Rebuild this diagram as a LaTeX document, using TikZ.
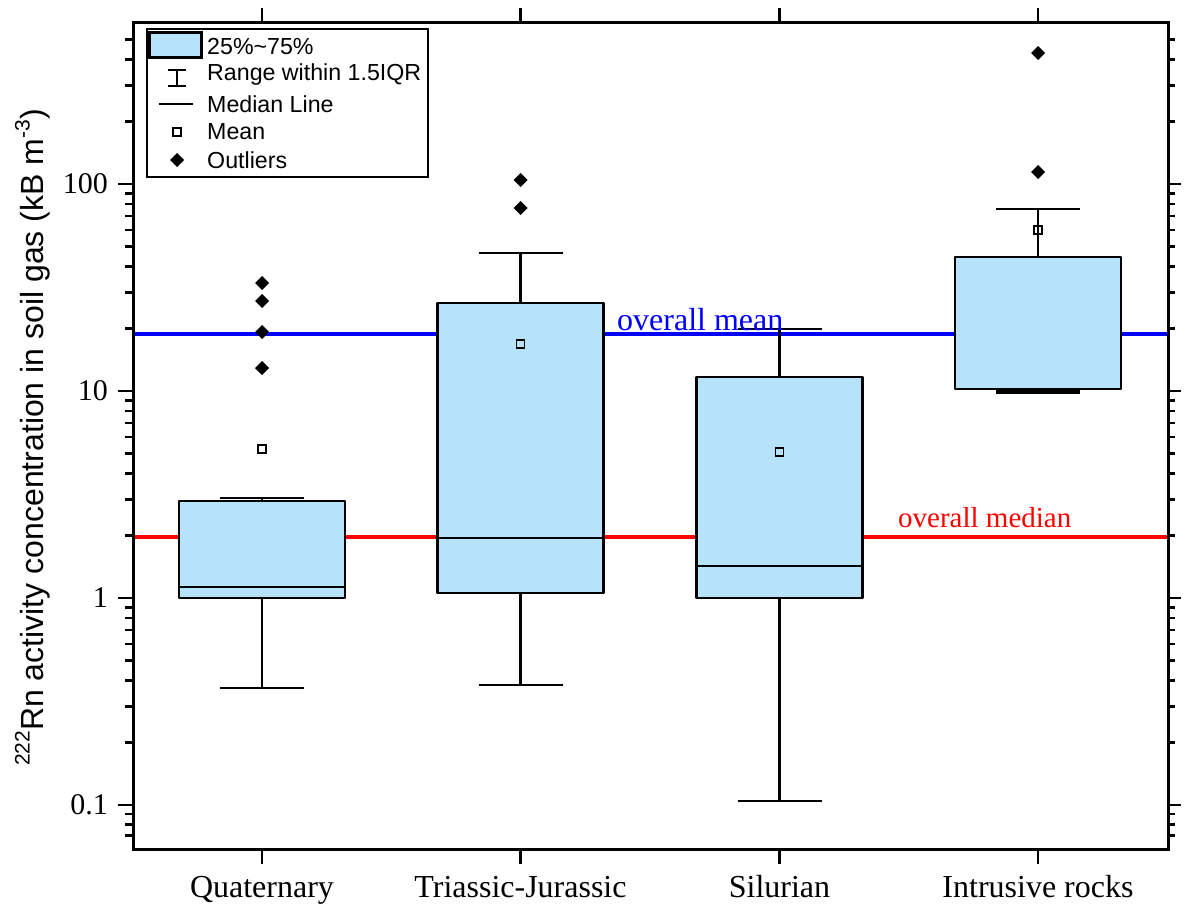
\documentclass[tikz,border=0pt]{standalone}
\usepackage{fontspec}
\setmainfont{Liberation Serif}
\newfontfamily\sansf{Liberation Sans}
\definecolor{boxfill}{RGB}{183,227,250}
\definecolor{mblue}{RGB}{0,0,255}
\definecolor{mred}{RGB}{255,0,0}
\tikzset{
  framest/.style={line width=3pt},
  tickst/.style={line width=2.6pt},
  whisk/.style={line width=2.5pt},
  boxst/.style={draw=black, fill=boxfill, line width=2.5pt, line join=round},
  meanst/.style={draw=black, line width=1.4pt},
  outst/.style={fill=black},
  reflinest/.style={line width=4pt},
  ticklab/.style={anchor=east, inner sep=0pt, font=\fontsize{30}{34}\selectfont},
  catlab/.style={anchor=base, inner sep=0pt, font=\fontsize{32}{36}\selectfont},
  legtext/.style={anchor=west, inner sep=0pt, font=\sansf\fontsize{23.2}{26}\selectfont},
}
% #1 x, #2 lower whisker, #3 q1, #4 median, #5 q3, #6 upper whisker, #7 mean (all pixel y)
\newcommand{\bxp}[7]{%
  \draw[whisk] (#1,#3) -- (#1,#2);
  \draw[whisk] (#1-42,#2) -- (#1+42,#2);
  \draw[whisk] (#1,#5) -- (#1,#6);
  \draw[whisk] (#1-42,#6) -- (#1+42,#6);
  \draw[boxst] (#1-83,#5) rectangle (#1+83,#3);
  \draw[whisk] (#1-83,#4) -- (#1+83,#4);
  \draw[meanst] (#1-4,#7-4) rectangle (#1+4,#7+4);
}
\newcommand{\outl}[2]{\fill[outst] (#1,#2-7) -- (#1+7,#2) -- (#1,#2+7) -- (#1-7,#2) -- cycle;}
\newcommand{\supx}[1]{\raisebox{0.42em}{\fontsize{21}{21}\selectfont #1}}
\begin{document}
\begin{tikzpicture}[x=1pt,y=-1pt]
\useasboundingbox (0,0) rectangle (1184,907);
% reference lines
\draw[reflinest, mblue] (133,334) -- (1168,334);
\draw[reflinest, mred] (133,537) -- (1168,537);
% boxes
\bxp{262}{688}{598}{587}{501}{498}{449}
\outl{262}{283} \outl{262}{301} \outl{262}{332} \outl{262}{368}
\bxp{520.5}{685}{593}{538}{303}{253}{344}
\outl{520.5}{180} \outl{520.5}{208}
\bxp{779.5}{801}{598}{566}{377}{329}{452}
\bxp{1038}{392.5}{389}{389}{257}{209}{230}
\draw[line width=4pt] (1038-42,392) -- (1038+42,392);
\outl{1038}{53} \outl{1038}{172}
% reference labels
\node[anchor=base west, inner sep=0pt, text=mblue, font=\fontsize{32}{36}\selectfont] (lmean) at (617,330) {overall mean};
\node[anchor=base west, inner sep=0pt, text=mred, font=\fontsize{29}{34}\selectfont] (lmed) at (898,527) {overall median};
% frame
\draw[framest] (133,23) rectangle (1168,849);
% major y ticks
\foreach \yy/\lab in {805/0.1, 598/1, 391/10, 184/100} {
  \draw[tickst] (118,\yy) -- (133,\yy);
  \draw[tickst] (1168,\yy) -- (1181,\yy);
  \node[ticklab] at (108,\yy) {\lab};
}
% minor y ticks
\foreach \v in {0.07,0.08,0.09,0.2,0.3,0.4,0.5,0.6,0.7,0.8,0.9,2,3,4,5,6,7,8,9,20,30,40,50,60,70,80,90,200,300,400,500} {
  \pgfmathsetmacro\yy{598-207*log10(\v)}
  \draw[tickst] (125,\yy) -- (133,\yy);
  \draw[tickst] (1168,\yy) -- (1175,\yy);
}
% category ticks and labels
\foreach \xx/\lab in {262/Quaternary, 520.5/Triassic-Jurassic, 779.5/Silurian, 1038/Intrusive rocks} {
  \draw[tickst] (\xx,23) -- (\xx,8);
  \draw[tickst] (\xx,849) -- (\xx,864);
  \node[catlab] at (\xx,897) {\lab};
}
% y-axis label
\node[rotate=90, anchor=base, inner sep=0pt, font=\sansf\fontsize{32}{36}\selectfont] (ylab) at (43,437.5)
  {\supx{222}Rn activity concentration in soil gas (kB m\supx{-3})};
% legend
\draw[line width=1.5pt, fill=white] (147,29) rectangle (428,177);
\draw[line width=3pt, fill=boxfill] (149,33) rectangle (201,58);
\draw[line width=2pt] (177,70) -- (177,86) (168,70) -- (186,70) (168,86) -- (186,86);
\draw[line width=2pt] (159,104) -- (193,104);
\draw[line width=1.2pt] (173,128) rectangle (181,136);
\outl{177}{160}
\node[legtext] (l1) at (207,47) {25\%\textasciitilde75\%};
\node[legtext] (l2) at (207,75) {Range within 1.5IQR};
\node[legtext] (l3) at (207,104) {Median Line};
\node[legtext] (l4) at (207,132) {Mean};
\node[legtext] (l5) at (207,160) {Outliers};
\end{tikzpicture}
\end{document}
